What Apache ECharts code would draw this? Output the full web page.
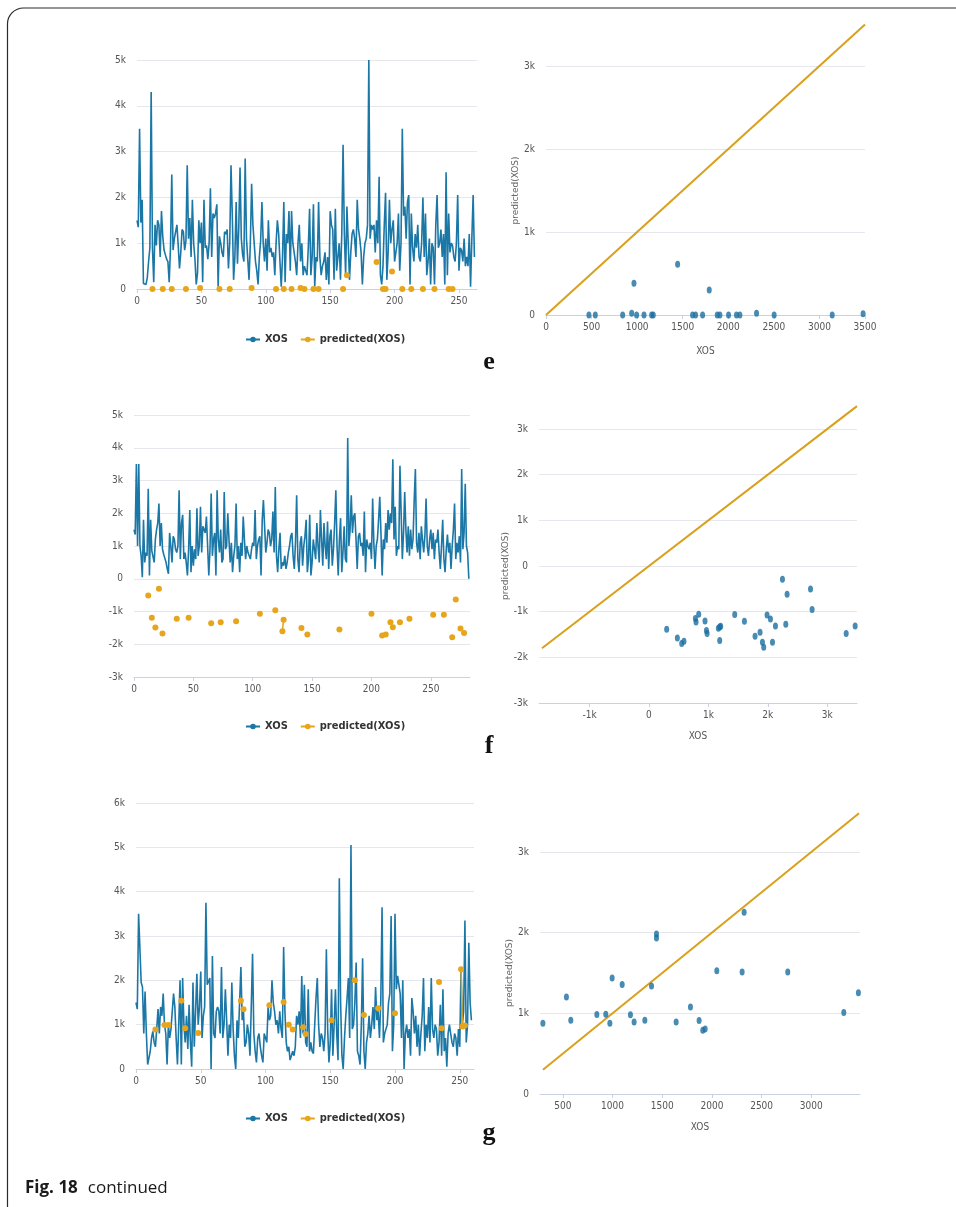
<!DOCTYPE html>
<html>
<head>
<meta charset="utf-8">
<script src="https://cdn.jsdelivr.net/npm/echarts@6/dist/echarts.min.js"></script>
<style>
html,body{margin:0;padding:0;background:#fff;}
#chart{width:956px;height:1207px;}
</style>
</head>
<body>
<div id="chart"></div>
<script>
// ---------- DATA ----------
// Panel e: time series
const eXOS = [
1500,1350,3500,1450,1950,120,80,100,250,600,
900,4300,900,150,1400,950,1500,1400,700,1700,
1150,850,750,650,600,150,900,2500,850,1100,
1250,1400,950,450,800,1300,1250,850,1050,2700,
1100,1550,700,1950,1000,650,100,350,1500,1000,
1450,150,1950,900,950,650,1000,2200,700,1650,
1550,1650,1850,50,1150,1000,800,700,1250,1200,
1300,450,1000,2700,1600,200,700,1900,550,1300,
2650,1100,750,600,2850,1100,650,200,1000,2300,
1400,1400,600,400,100,700,1050,1900,1000,600,
1100,400,1500,800,900,700,800,300,1000,1500,
1200,600,50,700,1900,150,1200,1000,1700,400,
1700,1000,800,600,300,1000,1400,600,1000,300,
500,500,300,900,1750,300,700,1850,50,700,
600,1900,700,300,500,600,800,200,700,100,
1700,1400,1300,200,1750,400,700,1000,200,1200,
3150,1200,300,1800,1000,200,800,1200,1300,1100,
700,1950,1300,1100,800,100,700,1000,1100,1400,
5000,1100,1400,1300,1400,800,1500,1000,2450,300,
100,500,1400,2100,200,800,1950,1000,1300,1500,
600,800,1000,1650,400,1000,3500,1600,1800,1100,
1900,2050,100,1650,900,600,1200,900,1400,700,
600,1000,2000,700,1650,300,600,1100,100,1000,
900,100,1400,2050,900,1000,1300,700,1200,100,
2550,300,1650,800,1000,950,700,600,1000,2050,
400,900,850,600,1100,500,700,500,1200,50,
1100,2050,700
];
const ePredIdx = [12,20,27,38,49,64,72,89,108,114,120,127,130,137,141,160,163,186,191,193,198,206,213,222,231,242,245];
const ePredVal = [0,0,0,0,20,0,0,20,0,0,0,20,0,0,0,0,300,590,0,0,380,0,0,0,0,0,0];
// Panel e: scatter
const eScatX = [471,541,841,940,965,994,1075,1159,1177,1444,1608,1641,1718,1791,1879,1908,2003,2090,2127,2310,2503,3140,3479];
const eScatY = [0,0,0,20,382,0,0,0,0,611,0,0,0,301,0,0,0,0,0,20,0,0,15];

// Panel f: time series
const fXOS = [
1500,1350,3500,1000,3500,1000,700,50,1800,500,
800,700,2750,100,1800,850,800,500,1200,1500,
1700,2300,1000,1700,900,750,700,500,300,150,
1400,1000,500,1300,1200,900,800,1000,2700,600,
1700,1950,600,800,500,100,900,2100,200,1000,
400,900,600,2150,700,1000,2200,800,1600,1500,
1400,1900,1900,100,900,2600,700,1200,1400,100,
2700,1200,800,1500,500,600,2650,900,1000,2000,
1200,500,1100,200,700,1000,2300,600,1000,200,
1100,700,1900,1200,600,1000,800,700,600,900,
1100,1000,2100,600,1000,1200,1300,100,1800,2400,
1600,800,1100,1500,1400,1000,1200,2050,800,2800,
700,200,900,1400,300,500,400,700,300,500,
800,1000,1300,1400,700,300,1100,2550,600,200,
1100,1300,400,1000,1300,1800,200,600,1950,100,
500,1200,900,600,1700,1000,500,2100,1200,400,
1700,1000,600,1750,300,1300,1500,400,900,1700,
2700,1000,100,1200,1850,200,800,1600,600,500,
4300,1000,1500,2550,1400,1900,2000,1200,300,1300,
1400,1000,1100,700,2050,200,1200,1000,900,1100,
600,2450,1100,300,1000,1200,1800,2500,1400,100,
1200,900,1700,1100,2100,1500,2000,1700,3650,1200,
2200,700,1000,900,3450,3500,600,1400,2650,1500,
800,1600,700,1500,900,1200,2400,3350,1100,800,
1400,600,1600,1200,800,1300,2450,1000,700,1200,
1500,900,1400,600,1200,1100,1500,800,300,1000,
1800,600,200,900,1350,800,1100,300,1000,1500,
2300,600,1100,800,1300,500,3350,900,1400,2900,
1000,800,0
];
const fPredIdx = [12,15,18,21,24,36,46,65,73,86,106,119,125,126,141,146,173,200,209,212,216,218,224,232,252,261,268,271,275,278];
const fPredVal = [-510,-1190,-1490,-305,-1670,-1220,-1190,-1360,-1330,-1300,-1070,-960,-1600,-1250,-1500,-1700,-1550,-1070,-1730,-1700,-1330,-1480,-1330,-1220,-1100,-1100,-1790,-630,-1520,-1660];
// Panel f: scatter
const fScatX = [298,478,551,589,781,792,837,943,967,978,1168,1190,1207,1190,1443,1606,1785,1869,1909,1931,1987,2044,2078,2128,2246,2302,2324,2718,2745,3318,3469];
const fScatY = [-1385,-1575,-1698,-1648,-1152,-1224,-1057,-1203,-1414,-1480,-1363,-1335,-1320,-1633,-1064,-1210,-1538,-1451,-1669,-1779,-1072,-1160,-1669,-1313,-291,-1276,-619,-503,-954,-1480,-1313];

// Panel g: time series
const gXOS = [
1500,1350,3500,3500,1950,1850,800,1750,800,100,
100,400,700,850,600,500,900,1350,800,1400,
1200,1700,1000,800,100,1000,700,900,1300,1700,
1400,700,100,1000,2000,100,2050,1000,600,1200,
450,1450,600,50,1950,500,1300,2150,1000,1400,
2200,700,1200,1400,3750,1900,1900,2050,0,2550,
800,700,1300,1400,1300,800,2300,700,1000,1800,
1100,300,1000,700,1950,900,300,0,1100,700,
1500,2300,1100,1300,500,600,1000,800,300,1400,
2600,800,400,150,700,800,500,300,150,800,
700,600,1400,1100,1200,2000,1500,1300,1000,1100,
800,1300,900,700,2750,1300,600,400,500,200,
200,400,300,500,1200,1000,1300,700,2100,800,
1900,600,500,1800,400,600,400,350,1000,1600,
2050,1000,500,800,700,400,800,2700,900,150,
600,1800,300,1000,1800,800,200,4300,1500,300,
0,700,1200,1600,2050,700,5050,900,1000,1500,
2400,400,300,100,1000,2500,400,0,600,800,
1200,700,1000,1400,900,1850,1100,1300,700,1500,
3650,600,800,900,1000,1500,1700,3450,400,1000,
3500,1800,2100,1900,1700,700,2000,0,800,1000,
700,900,300,1600,1300,800,1200,500,1000,300,
800,1200,2050,400,1000,700,1400,600,2050,900,
700,1000,900,300,600,1450,300,1800,400,700,
50,800,1000,800,600,500,800,700,300,900,
500,2300,1000,1300,3350,600,1000,2850,1500,1100
];
const gPredIdx = [15,22,25,35,38,48,81,83,103,114,118,121,129,131,151,169,176,187,200,234,236,251,252,254];
const gPredVal = [890,990,990,1540,920,810,1540,1350,1440,1510,1000,890,940,790,1100,2000,1220,1370,1260,1960,920,2250,960,980];
// Panel g: scatter
const gScatX = [299,536,580,842,932,973,996,1097,1180,1217,1325,1392,1442,1442,1640,1784,1871,1908,1932,2049,2304,2324,2763,3327,3474];
const gScatY = [878,1201,915,985,990,878,1437,1358,981,894,915,1338,1983,1934,894,1077,911,791,807,1528,1512,2252,1512,1010,1254];

// identity reference line ends for each scatter panel
const eDiag = [0, 3500];
const fDiag = [-1800, 3500];
const gDiag = [300, 3480];

const seriesNames = ['XOS', 'predicted(XOS)'];
const panelLetters = ['e', 'f', 'g'];

// ---------- STYLE ----------
const FONT = '"Liberation Sans Narrow","DejaVu Sans Condensed","Roboto Condensed","Liberation Sans",sans-serif';
const BLUE = '#1b77a6';
const GOLD = '#e6a51b';
const DIAG = '#d9a01c';
const SCAT = '#1a6ea0';
const GRID = '#e5e7ec';
const AXIS = '#c9d2e3';
const LABEL = '#555';

function kfmt(v) { return v === 0 ? '0' : (v / 1000) + 'k'; }
function plain(v) { return String(v); }
function pairs(xs, ys) { return xs.map((x, i) => [x, ys[i]]); }
function seq(arr) { return arr.map((v, i) => [i, v]); }
function predData(idx, val, n) {
  const m = {};
  idx.forEach((i, k) => { m[i] = val[k]; });
  const out = [];
  for (let i = 0; i < n; i++) out.push([i, m[i] === undefined ? '-' : m[i]]);
  return out;
}

const grids = [
  {left: 137, right: 479, top: 60, bottom: 918},
  {left: 546, right: 91, top: 66, bottom: 892},
  {left: 134, right: 486, top: 415, bottom: 530},
  {left: 539, right: 99, top: 429, bottom: 504},
  {left: 136, right: 482, top: 803, bottom: 138},
  {left: 540, right: 96, top: 852, bottom: 113}
];

function xLabel(fmt, hideMin, hideMax) {
  return {color: LABEL, fontSize: 10, fontFamily: FONT, margin: 7, formatter: fmt,
          showMinLabel: hideMin ? false : null, showMaxLabel: hideMax ? false : null};
}
function xAx(gi, o) {
  return Object.assign({
    type: 'value', gridIndex: gi,
    axisLine: {show: true, onZero: false, lineStyle: {color: AXIS, width: 1}},
    axisTick: {show: true, length: 4, lineStyle: {color: AXIS}},
    splitLine: {show: false},
    axisLabel: xLabel(plain, false, false)
  }, o);
}
function yAx(gi, o) {
  return Object.assign({
    type: 'value', gridIndex: gi,
    axisLine: {show: false, onZero: false},
    axisTick: {show: false},
    splitLine: {show: true, lineStyle: {color: GRID, width: 1}},
    axisLabel: {color: LABEL, fontSize: 10, fontFamily: FONT, margin: 11, formatter: kfmt}
  }, o);
}
const nameStyleY = {color: '#666', fontSize: 9, fontFamily: '"DejaVu Sans",sans-serif'};
const nameStyleX = {color: '#555', fontSize: 10, fontFamily: FONT};

const xAxes = [
  xAx(0, {min: 0, max: 264, interval: 50, axisLabel: xLabel(plain, false, true)}),
  xAx(1, {min: 0, max: 3500, interval: 500, name: 'XOS', nameLocation: 'middle', nameGap: 31, nameTextStyle: nameStyleX}),
  xAx(2, {min: 0, max: 283, interval: 50, axisLabel: xLabel(plain, false, true)}),
  xAx(3, {min: -1850, max: 3500, splitNumber: 5, name: 'XOS', nameLocation: 'middle', nameGap: 28, nameTextStyle: nameStyleX,
          axisLabel: xLabel(kfmt, true, true)}),
  xAx(4, {min: 0, max: 261, interval: 50, axisLabel: xLabel(plain, false, true)}),
  xAx(5, {min: 270, max: 3490, splitNumber: 6, name: 'XOS', nameLocation: 'middle', nameGap: 28, nameTextStyle: nameStyleX,
          axisLabel: xLabel(plain, true, true)})
];
const yAxes = [
  yAx(0, {min: 0, max: 5000, interval: 1000}),
  yAx(1, {min: 0, max: 3000, interval: 1000, name: 'predicted(XOS)', nameLocation: 'middle', nameGap: 26, nameTextStyle: nameStyleY}),
  yAx(2, {min: -3000, max: 5000, interval: 1000}),
  yAx(3, {min: -3000, max: 3000, interval: 1000, name: 'predicted(XOS)', nameLocation: 'middle', nameGap: 26, nameTextStyle: nameStyleY}),
  yAx(4, {min: 0, max: 6000, interval: 1000}),
  yAx(5, {min: 0, max: 3000, interval: 1000, name: 'predicted(XOS)', nameLocation: 'middle', nameGap: 24, nameTextStyle: nameStyleY})
];

function lineSeries(gi, xos, pIdx, pVal) {
  return [
    {name: seriesNames[0], type: 'line', xAxisIndex: gi, yAxisIndex: gi, data: seq(xos),
     showSymbol: false, symbol: 'circle', symbolSize: 6,
     lineStyle: {color: BLUE, width: 1.6}, itemStyle: {color: BLUE}},
    {name: seriesNames[1], type: 'line', xAxisIndex: gi, yAxisIndex: gi, data: predData(pIdx, pVal, xos.length),
     showSymbol: true, showAllSymbol: true, symbol: 'circle', symbolSize: 6, connectNulls: false,
     lineStyle: {color: GOLD, width: 1.5}, itemStyle: {color: GOLD}, z: 3}
  ];
}
function scatterSeries(gi, diag, xs, ys) {
  return [
    {type: 'line', xAxisIndex: gi, yAxisIndex: gi, data: [[diag[0], diag[0]], [diag[1], diag[1]]],
     showSymbol: false, clip: false, lineStyle: {color: DIAG, width: 2}, silent: true},
    {type: 'scatter', xAxisIndex: gi, yAxisIndex: gi, data: pairs(xs, ys),
     symbol: 'circle', symbolSize: [5, 7], itemStyle: {color: SCAT}, z: 4}
  ];
}

const series = [].concat(
  lineSeries(0, eXOS, ePredIdx, ePredVal),
  scatterSeries(1, eDiag, eScatX, eScatY),
  lineSeries(2, fXOS, fPredIdx, fPredVal),
  scatterSeries(3, fDiag, fScatX, fScatY),
  lineSeries(4, gXOS, gPredIdx, gPredVal),
  scatterSeries(5, gDiag, gScatX, gScatY)
);

function legend(top) {
  return {
    data: seriesNames, left: 240, top: top, itemWidth: 14, itemHeight: 7, itemGap: 12,
    textStyle: {fontFamily: FONT, fontWeight: 'bold', fontSize: 11, color: '#333'}
  };
}

const letterY = [362, 746, 1133];
const graphic = [
  {type: 'rect', silent: true,
   shape: {x: 7.5, y: 8, width: 1000, height: 1260, r: [16, 0, 0, 0]},
   style: {fill: 'none', stroke: '#2a2a2a', lineWidth: 1.2}},
  {type: 'text', x: 25, y: 1188, silent: true,
   style: {text: '{b|Fig. 18}   {n|continued}', verticalAlign: 'middle', align: 'left',
           rich: {b: {fontWeight: 'bold', fontSize: 17, fontFamily: '"Open Sans","Noto Sans",sans-serif', fill: '#1a1a1a'},
                  n: {fontWeight: 'normal', fontSize: 17, fontFamily: '"Open Sans","Noto Sans",sans-serif', fill: '#1a1a1a'}}}}
].concat(panelLetters.map((l, k) => ({
  type: 'text', x: 489, y: letterY[k], silent: true,
  style: {text: l, font: 'bold 26px "Liberation Serif","DejaVu Serif",serif', fill: '#111', align: 'center', verticalAlign: 'middle'}
})));

const chart = echarts.init(document.getElementById('chart'), null, {renderer: 'canvas'});
chart.setOption({
  animation: false,
  backgroundColor: '#fff',
  grid: grids,
  xAxis: xAxes,
  yAxis: yAxes,
  legend: [legend(329), legend(716), legend(1108)],
  series: series,
  graphic: graphic
});
</script>
</body>
</html>
